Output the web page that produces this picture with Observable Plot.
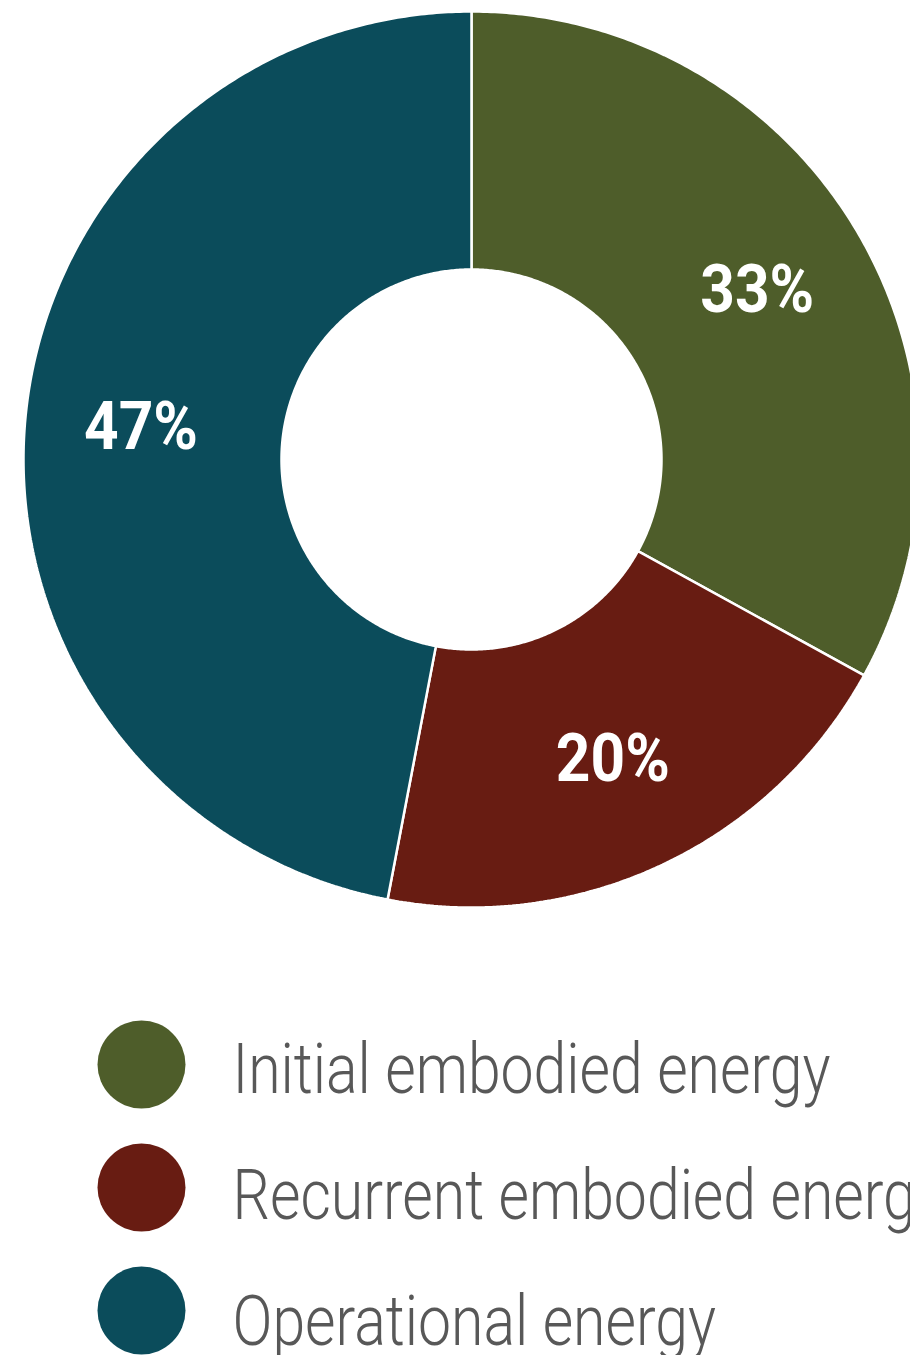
<!DOCTYPE html>
<html>
<head>
<meta charset="utf-8">
<script src="https://cdn.jsdelivr.net/npm/d3@7"></script>
<script src="https://cdn.jsdelivr.net/npm/@observablehq/plot@0.6"></script>
<style>
  html, body { margin: 0; padding: 0; background: #fff; overflow: hidden; }
  #chart svg { display: block; }
</style>
</head>
<body>
<div id="chart"></div>
<script>
// ---- data ----
const categories = ["Initial embodied energy", "Recurrent embodied energy", "Operational energy"];
const shares = [33, 20, 47];
const sliceLabels = ["33%", "20%", "47%"];
const colors = ["#4e5d2a", "#681c12", "#0b4c5b"];

// ---- layout ----
const W = 910, H = 1355;
const cx = 471, cy = 459, R = 448, r0 = 190, labelR = 332;
const legendX = 141, legendTextX = 232, legendTop = 1064, legendStep = 123, legendTextDy = 6, textStep = 126;
const legendFirstWidth = 598, labelFirstWidth = 114;

const total = d3.sum(shares);
let cum = 0;
const slices = categories.map((key, i) => {
  const a0 = cum / total * 360;
  cum += shares[i];
  const a1 = cum / total * 360;
  return {key, a0, a1, label: sliceLabels[i]};
});
const pt = (a, rho) => {
  const t = a * Math.PI / 180;
  return [cx + rho * Math.sin(t), cy - rho * Math.cos(t)];
};
const arcPoints = [];
for (const s of slices) {
  const n = Math.max(2, Math.ceil((s.a1 - s.a0) * 2));
  const ring = [];
  for (let k = 0; k <= n; k++) ring.push(pt(s.a0 + (s.a1 - s.a0) * k / n, R));
  for (let k = n; k >= 0; k--) ring.push(pt(s.a0 + (s.a1 - s.a0) * k / n, r0));
  ring.push(ring[0]);
  for (const [x, y] of ring) arcPoints.push({key: s.key, x, y});
}
const labelData = slices.map(s => {
  const [x, y] = pt((s.a0 + s.a1) / 2, labelR);
  return {x, y, text: s.label};
});
const legendData = categories.map((key, i) => ({
  key,
  x: legendX,
  y: legendTop + i * legendStep,
  tx: legendTextX,
  ty: legendTop + legendTextDy + i * textStep
}));

const chart = Plot.plot({
  width: W,
  height: H,
  margin: 0,
  x: {domain: [0, W], range: [0, W], axis: null},
  y: {domain: [0, H], range: [0, H], axis: null},
  color: {domain: categories, range: colors},
  style: {background: "white", overflow: "hidden"},
  marks: [
    Plot.line(arcPoints, {x: "x", y: "y", z: "key", fill: "key", stroke: "white", strokeWidth: 2.5, strokeLinejoin: "miter"}),
    Plot.text(labelData, {x: "x", y: "y", text: "text", fill: "white", fontSize: 66, fontWeight: "bold", fontFamily: "Roboto", className: "slice-label"}),
    Plot.dot(legendData, {x: "x", y: "y", r: 44, fill: "key"}),
    Plot.text(legendData, {x: "tx", y: "ty", text: "key", textAnchor: "start", fontSize: 70, fontWeight: 300, fill: "#585858", fontFamily: "Roboto", className: "legend-text"})
  ]
});
document.getElementById("chart").appendChild(chart);

// condense text horizontally (the original uses a condensed typeface)
function condense(selector, firstWidth) {
  const texts = Array.from(chart.querySelectorAll(selector + " text"));
  if (!texts.length) return;
  const k = firstWidth / texts[0].getComputedTextLength();
  for (const t of texts) {
    const w = t.getComputedTextLength();
    t.setAttribute("textLength", (w * k).toFixed(1));
    t.setAttribute("lengthAdjust", "spacingAndGlyphs");
  }
}
condense(".slice-label", labelFirstWidth);
condense(".legend-text", legendFirstWidth);
</script>
</body>
</html>
